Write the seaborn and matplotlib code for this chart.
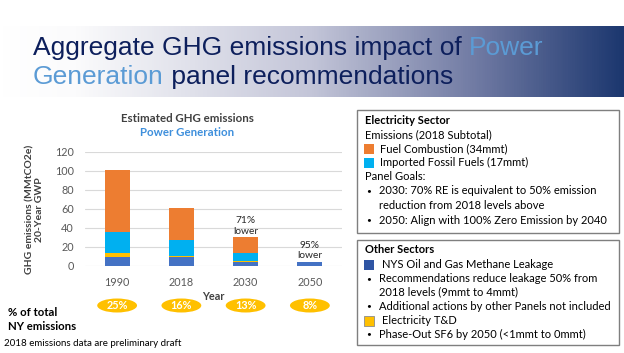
import numpy as np
import pandas as pd
import matplotlib
matplotlib.use("Agg")
import matplotlib.pyplot as plt
import seaborn as sns
from matplotlib.patches import Rectangle, Ellipse
from matplotlib.colors import LinearSegmentedColormap
from matplotlib.transforms import blended_transform_factory

# ---------------- data ----------------
years = ["1990", "2018", "2030", "2050"]
methane = [9, 9, 4, 4]          # NYS Oil and Gas Methane Leakage
td = [4, 1, 0.5, 0]             # Electricity T&D
imported = [23, 17, 8.5, 0]     # Imported Fossil Fuels
fuel = [65, 34, 17, 0]          # Fuel Combustion
pct_total = ["25%", "16%", "13%", "8%"]
reductions = {"2030": "71%\nlower", "2050": "95%\nlower"}
yticks = [0, 20, 40, 60, 80, 100, 120]

C_FUEL = "#ED7D31"
C_IMP = "#00B0F0"
C_TD = "#FFC000"
C_METH = "#4472C4"

sns.set_theme(style="white")
plt.rcParams["font.family"] = ["Lato", "DejaVu Sans"]

W, H = 624, 353
fig = plt.figure(figsize=(W / 100, H / 100), dpi=100)
fig.patch.set_facecolor("white")

def fx(x):
    return x / W

def fy(y):
    return 1 - y / H

# ---------------- title band ----------------
band = fig.add_axes([0, fy(97), 1, (97 - 26) / H], zorder=0)
cmap = LinearSegmentedColormap.from_list(
    "band", [(0, "#ffffff"), (0.12, "#fbfbfc"), (0.5, "#c3c5d8"),
             (0.78, "#6b76a0"), (1.0, "#1c376f")])
band.imshow(np.linspace(0, 1, 600)[None, :], aspect="auto", cmap=cmap,
            extent=[0, 1, 0, 1])
band.set_axis_off()

NAVY = "#0d1f5c"
LBLUE = "#5b9bd5"
tfs = 19
renderer = fig.canvas.get_renderer()
t1 = fig.text(fx(33), fy(48), "Aggregate GHG emissions impact of ", color=NAVY,
              fontsize=tfs, family="Liberation Sans", va="center", ha="left")
bb = t1.get_window_extent(renderer)
fig.text(bb.x1 / W, fy(48), "Power", color=LBLUE, fontsize=tfs,
         family="Liberation Sans", va="center", ha="left")
t2 = fig.text(fx(33), fy(77), "Generation", color=LBLUE, fontsize=tfs,
              family="Liberation Sans", va="center", ha="left")
bb2 = t2.get_window_extent(renderer)
fig.text(bb2.x1 / W, fy(77), " panel recommendations", color=NAVY, fontsize=tfs,
         family="Liberation Sans", va="center", ha="left")

# ---------------- chart ----------------
ax = fig.add_axes([fx(85), fy(265.7), (342 - 85) / W, (265.7 - 151.7) / H])
df = pd.DataFrame({"year": years, "methane": methane, "td": td,
                   "imported": imported, "fuel": fuel})
df["c_meth"] = df["methane"]
df["c_td"] = df["c_meth"] + df["td"]
df["c_imp"] = df["c_td"] + df["imported"]
df["c_fuel"] = df["c_imp"] + df["fuel"]

for col, c in [("c_fuel", C_FUEL), ("c_imp", C_IMP), ("c_td", C_TD), ("c_meth", C_METH)]:
    sns.barplot(data=df, x="year", y=col, color=c, width=0.39, errorbar=None,
                linewidth=0, saturation=1, ax=ax, zorder=3)

ax.set_ylim(0, 120)
ax.set_xlim(-0.5, 3.5)
ax.set_yticks(yticks)
ax.grid(axis="y", color="#d9d9d9", linewidth=0.8, zorder=0)
ax.set_axisbelow(True)
for s in ax.spines.values():
    s.set_visible(False)
ax.tick_params(axis="both", length=0, labelsize=7.8, labelcolor="#595959")
ax.tick_params(axis="x", pad=8)
ax.tick_params(axis="y", pad=8)
ax.set_xlabel("Year", fontsize=7.8, fontweight="bold", color="#404040", labelpad=2)
ax.set_ylabel("GHG emissions (MMtCO2e)\n20-Year GWP", fontsize=7.5,
              fontweight="bold", color="#404040", linespacing=1.1)
ax.yaxis.set_label_coords(-0.158, 0.49)

for yr, txt in reductions.items():
    i = years.index(yr)
    top = df.loc[i, "c_fuel"]
    ax.text(i, top + 1.5, txt, ha="center", va="bottom", fontsize=7.3,
            color="#262626", linespacing=1.25)

fig.text(fx(187), fy(118), "Estimated GHG emissions", ha="center", va="center",
         fontsize=8.3, fontweight="bold", color="#404040")
fig.text(fx(187), fy(133), "Power Generation", ha="center", va="center",
         fontsize=8.3, fontweight="bold", color="#3E8FDC")

# percent ellipses
tr = blended_transform_factory(ax.transData, fig.transFigure)
for i, p in enumerate(pct_total):
    e = Ellipse((i, fy(305.5)), width=0.62, height=14 / H, transform=tr,
                facecolor=C_TD, edgecolor="none", clip_on=False)
    fig.add_artist(e)
    t = fig.text(0, 0, p, ha="center", va="center", fontsize=7.8,
                 fontweight="bold", color="white")
    t.set_transform(tr)
    t.set_position((i, fy(305.5)))

fig.text(fx(8), fy(312), "% of total", ha="left", va="center", fontsize=8.2,
         fontweight="bold", color="black")
fig.text(fx(8), fy(326), "NY emissions", ha="left", va="center", fontsize=8.2,
         fontweight="bold", color="black")
fig.text(fx(4), fy(343), "2018 emissions data are preliminary draft", ha="left",
         va="center", fontsize=7.0, color="black")

# ---------------- side boxes ----------------
def box(x0, y0, x1, y1):
    fig.add_artist(Rectangle((fx(x0), fy(y1)), fx(x1) - fx(x0), fy(y0) - fy(y1),
                             transform=fig.transFigure, facecolor="white",
                             edgecolor="#7f7f7f", linewidth=1.0))

def swatch(y, c, ec="none"):
    fig.add_artist(Rectangle((fx(364), fy(y + 5)), 10 / W, 10 / H,
                             transform=fig.transFigure, facecolor=c,
                             edgecolor=ec, linewidth=0.6))

FS = 8.0
def line(x, y, s, bold=False, fs=FS):
    fig.text(fx(x), fy(y), s, ha="left", va="center", fontsize=fs,
             fontweight="bold" if bold else "normal", color="black")

def bullet(y, s):
    line(366, y, "\u2022", fs=6)
    line(379, y, s)

box(357, 110, 619, 233)
line(365, 121, "Electricity Sector", bold=True)
line(365, 134.5, "Emissions (2018 Subtotal)")
swatch(148.5, C_FUEL)
line(380, 148.5, "Fuel Combustion (34mmt)")
swatch(162.5, C_IMP)
line(380, 162.5, "Imported Fossil Fuels (17mmt)")
line(365, 177, "Panel Goals:")
bullet(191, "2030: 70% RE is equivalent to 50% emission")
line(379, 205.5, "reduction from 2018 levels above")
bullet(220, "2050: Align with 100% Zero Emission by 2040")

box(357, 240, 619, 345)
line(365, 249.5, "Other Sectors", bold=True)
swatch(264.5, "#2F55A4")
line(382, 264, "NYS Oil and Gas Methane Leakage")
bullet(278.5, "Recommendations reduce leakage 50% from")
line(379, 292, "2018 levels (9mmt to 4mmt)")
bullet(306, "Additional actions by other Panels not included")
swatch(320.5, C_TD, ec="#8c8c8c")
line(382, 320.5, "Electricity T&D")
bullet(334, "Phase-Out SF6 by 2050 (<1mmt to 0mmt)")

fig.savefig("out.png", dpi=100, facecolor="white")
